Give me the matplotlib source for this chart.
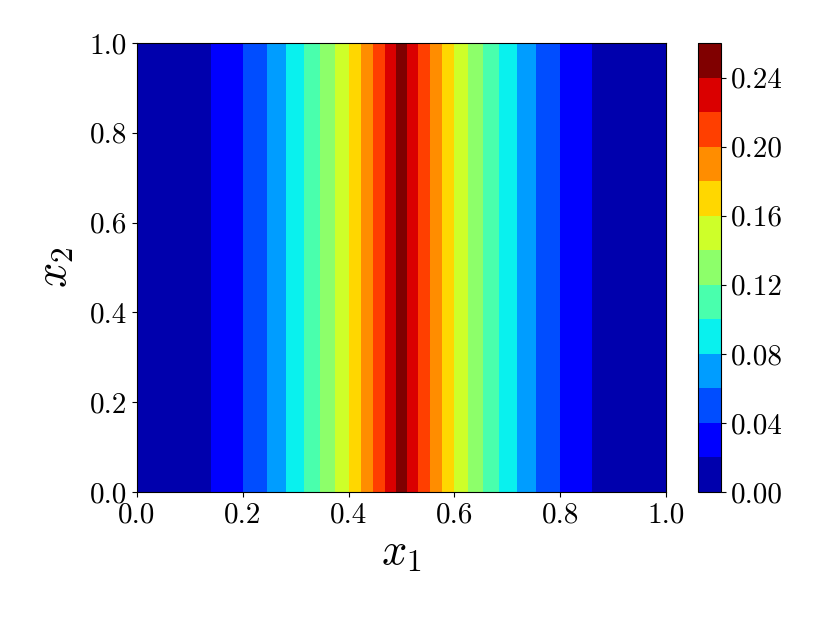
import numpy as np
import matplotlib
matplotlib.use("Agg")
import matplotlib.pyplot as plt
from matplotlib.colors import Normalize

plt.rcParams['font.family'] = 'serif'
plt.rcParams['font.serif'] = ['cmr10', 'DejaVu Serif']
plt.rcParams['mathtext.fontset'] = 'cm'
plt.rcParams['axes.unicode_minus'] = False
plt.rcParams['axes.formatter.use_mathtext'] = True

# Profile of u along x1 (field is constant along x2)
x1_pts = [0.0, 0.14, 0.20, 0.245, 0.282, 0.316, 0.346, 0.374, 0.400, 0.424, 0.447, 0.469, 0.4894,
          0.50,
          0.5106, 0.531, 0.553, 0.576, 0.600, 0.626, 0.654, 0.684, 0.718, 0.755, 0.80, 0.86, 1.0]
u_pts = [0.004, 0.02, 0.04, 0.06, 0.08, 0.10, 0.12, 0.14, 0.16, 0.18, 0.20, 0.22, 0.24,
         0.25,
         0.24, 0.22, 0.20, 0.18, 0.16, 0.14, 0.12, 0.10, 0.08, 0.06, 0.04, 0.02, 0.004]
x2_pts = [0.0, 1.0]
levels = [0.00, 0.02, 0.04, 0.06, 0.08, 0.10, 0.12, 0.14, 0.16, 0.18, 0.20, 0.22, 0.24, 0.26]
cbar_ticks = [0.00, 0.04, 0.08, 0.12, 0.16, 0.20, 0.24]
axis_ticks = [0.0, 0.2, 0.4, 0.6, 0.8, 1.0]

X1, X2 = np.meshgrid(np.array(x1_pts), np.array(x2_pts))
U = np.tile(np.array(u_pts), (len(x2_pts), 1))

fig = plt.figure(figsize=(8.3, 6.23), dpi=100)
ax = fig.add_axes([0.165, 0.2103, 0.6375, 0.7207])
cax = fig.add_axes([0.841, 0.2103, 0.0277, 0.7207])

cs = ax.contourf(X1, X2, U, levels=levels, cmap='jet',
                 norm=Normalize(vmin=0.0, vmax=max(u_pts)))
ax.set_xlim(0, 1)
ax.set_ylim(0, 1)
ax.set_xticks(axis_ticks)
ax.set_yticks(axis_ticks)
ax.set_xticklabels([f"{t:.1f}" for t in axis_ticks])
ax.set_yticklabels([f"{t:.1f}" for t in axis_ticks])
ax.tick_params(labelsize=21)
ax.set_xlabel(r'$x_1$', fontsize=32)
ax.set_ylabel(r'$x_2$', fontsize=32, labelpad=10)

cb = fig.colorbar(cs, cax=cax)
cb.set_ticks(cbar_ticks)
cb.set_ticklabels([f"{t:.2f}" for t in cbar_ticks])
cb.ax.tick_params(labelsize=21)

fig.savefig('out.png', dpi=100)
